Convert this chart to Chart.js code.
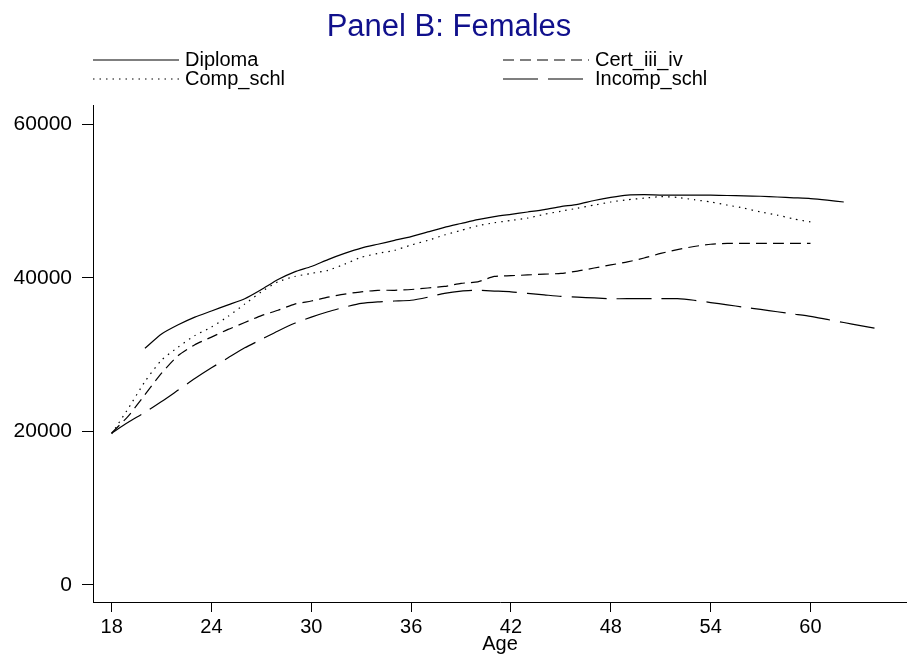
<!DOCTYPE html>
<html>
<head>
<meta charset="utf-8">
<script src="https://cdn.jsdelivr.net/npm/chart.js@4"></script>
<style>
  body { margin: 0; background: #fff; }
  canvas { display: block; }
</style>
</head>
<body>
<canvas id="chart" width="907" height="659"></canvas>
<script>
// Panel B: Females - earnings by age

var ages = [];
for (var a = 18; a <= 64; a++) ages.push(a);

var diploma = [null, null,
  30840, 32700, 33900, 34900, 35700, 36500, 37300, 38500, 39800, 40800,
  41500, 42400, 43200, 43900, 44400, 44900, 45400, 46000, 46600, 47100,
  47600, 48000, 48300, 48600, 48900, 49300, 49600, 50100, 50500, 50800,
  50850, 50800, 50800, 50800, 50800, 50750, 50700, 50650, 50550, 50450,
  50350, 50150, 49900];

var compSchl = [19700, 23000, 26500, 29300, 31000, 32500, 33600, 35000, 36600, 38200,
  39500, 40200, 40600, 41000, 41800, 42700, 43200, 43600, 44300, 44900,
  45600, 46200, 46800, 47200, 47500, 47800, 48300, 48700, 49100, 49500,
  49900, 50200, 50400, 50600, 50500, 50200, 49900, 49500, 49100, 48600,
  48200, 47700, 47300];

var certIIIiv = [19800, 22000, 24800, 27600, 29900, 31300, 32300, 33300, 34200, 35100,
  35800, 36600, 37000, 37500, 37900, 38200, 38400, 38400, 38500, 38700,
  38900, 39300, 39500, 40200, 40300, 40400, 40500, 40600, 40900, 41300,
  41700, 42100, 42600, 43200, 43700, 44100, 44400, 44500, 44500, 44500,
  44500, 44500, 44500];

var incompSchl = [19800, 21200, 22500, 23900, 25400, 26900, 28300, 29600, 30900, 32000,
  33100, 34100, 34900, 35600, 36200, 36700, 36900, 37000, 37100, 37500,
  38000, 38300, 38400, 38300, 38200, 38000, 37800, 37600, 37500, 37400,
  37300, 37300, 37300, 37300, 37300, 37100, 36800, 36500, 36200, 35900,
  35600, 35300, 35000, 34600, 34200, 33800, 33400];

var xTicks = [18, 24, 30, 36, 42, 48, 54, 60];
var yTicks = [0, 20000, 40000, 60000];

var FONT = '"Liberation Sans", Arial, sans-serif';

function points(vals) {
  var out = [];
  vals.forEach(function (v, i) {
    if (v !== null) out.push({ x: ages[i], y: v });
  });
  return out;
}

function series(label, vals, dash) {
  return {
    label: label,
    data: points(vals),
    borderColor: '#000',
    borderWidth: 1.2,
    borderDash: dash,
    pointRadius: 0,
    tension: 0.2,
    fill: false
  };
}

// title and 2-column legend drawn on the canvas
var headerPlugin = {
  id: 'header',
  afterDraw: function (chart) {
    var ctx = chart.ctx;
    var ds = chart.data.datasets;
    ctx.save();
    ctx.fillStyle = '#10108c';
    ctx.font = '31px ' + FONT;
    ctx.textAlign = 'center';
    ctx.textBaseline = 'alphabetic';
    ctx.fillText('Panel B: Females', 449, 36);

    var slots = [
      { x: 93, y: 60 }, { x: 93, y: 79 },
      { x: 503, y: 60 }, { x: 503, y: 79 }
    ];
    ctx.font = '20px ' + FONT;
    ctx.textAlign = 'left';
    ctx.textBaseline = 'middle';
    ds.forEach(function (d, i) {
      var s = slots[i];
      ctx.strokeStyle = '#000';
      ctx.lineWidth = d.borderWidth;
      ctx.setLineDash(d.borderDash || []);
      ctx.beginPath();
      ctx.moveTo(s.x, s.y);
      ctx.lineTo(s.x + 86, s.y);
      ctx.stroke();
      ctx.fillStyle = '#000';
      ctx.fillText(d.label, s.x + 92, s.y);
    });
    ctx.restore();
  }
};

new Chart(document.getElementById('chart'), {
  type: 'line',
  data: {
    datasets: [
      series('Diploma', diploma, []),
      series('Comp_schl', compSchl, [1.5, 5]),
      series('Cert_iii_iv', certIIIiv, [11, 6]),
      series('Incomp_schl', incompSchl, [35, 10])
    ]
  },
  options: {
    responsive: false,
    animation: false,
    layout: { padding: { top: 105, left: 0, right: 0, bottom: 0 } },
    plugins: {
      legend: { display: false },
      title: { display: false },
      tooltip: { enabled: false }
    },
    scales: {
      x: {
        type: 'linear',
        min: 16.88,
        max: 65.8,
        afterBuildTicks: function (axis) {
          axis.ticks = xTicks.map(function (v) { return { value: v }; });
        },
        afterFit: function (axis) { axis.height = 57; },
        grid: { drawOnChartArea: false, drawTicks: true, tickLength: 10, tickColor: '#000' },
        border: { display: true, color: '#000', width: 1 },
        ticks: { color: '#000', font: { family: FONT, size: 20 }, padding: 3, maxRotation: 0 },
        title: { display: true, text: 'Age', color: '#000', font: { family: FONT, size: 20 }, padding: { top: 0, bottom: 3 } }
      },
      y: {
        type: 'linear',
        min: -2215,
        max: 62540,
        afterBuildTicks: function (axis) {
          axis.ticks = yTicks.map(function (v) { return { value: v }; });
        },
        afterFit: function (axis) { axis.width = 93; },
        grid: { drawOnChartArea: false, drawTicks: true, tickLength: 11, tickColor: '#000' },
        border: { display: true, color: '#000', width: 1 },
        ticks: {
          color: '#000',
          font: { family: FONT, size: 21 },
          padding: 10,
          callback: function (v) { return String(v); }
        }
      }
    }
  },
  plugins: [headerPlugin]
});
</script>
</body>
</html>
